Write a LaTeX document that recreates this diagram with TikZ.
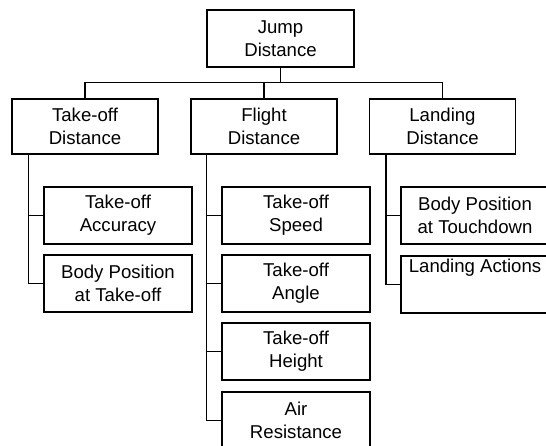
\documentclass[tikz,border=0pt]{standalone}
\usepackage{fontspec}
\setmainfont{Liberation Sans}
\begin{document}
\begin{tikzpicture}[x=1bp,y=-1bp,
  box/.style={draw, line width=1.3bp, rectangle, inner sep=0pt, align=center,
    font=\fontsize{18.6bp}{23bp}\selectfont, minimum width=148bp, minimum height=57bp},
  midbox/.style={box, minimum width=146bp, minimum height=55bp},
  lab/.style={inner sep=0pt, font=\fontsize{18.6bp}{23bp}\selectfont},
  wire/.style={line width=1.3bp}]
\useasboundingbox (0,0) rectangle (546,446);
\clip (0,0) rectangle (546,446);
% root
\node[box, minimum width=147bp] (root) at (280.5,38.5) {Jump\\Distance};
% level 2
\node[midbox] (tod) at (85,126.5) {Take-off\\Distance};
\node[midbox] (fd) at (264,126.5) {Flight\\Distance};
\node[midbox] (ld) at (442.5,126.5) {Landing\\Distance};
% children left
\node[box] (ta) at (118,215.5) {Take-off\\Accuracy};
\node[box] (bpt) at (118,283.5) {Body Position\\at Take-off};
% children middle
\node[box] (ts) at (296,215.5) {Take-off\\Speed};
\node[box] (tan) at (296,283.5) {Take-off\\Angle};
\node[box] (th) at (296,351.5) {Take-off\\Height};
\node[box] (ar) at (296,420.5) {Air\\Resistance};
% children right
\node[box] (bptd) at (475,215.5) {Body Position\\at Touchdown};
\node[box] (la) at (475,284.5) {};
\node[lab, anchor=north] (latext) at ([yshift=-3bp]la.north) {Landing Actions};
% connectors level 1
\draw[wire] (root.south) -- ++(0,15) coordinate (hub);
\draw[wire] (tod.north) |- (hub) -| (ld.north);
\draw[wire] (fd.north) -- (fd.north |- hub);
% connectors left
\draw[wire] ([xshift=17bp]tod.south west) |- (ta.west);
\draw[wire] ([xshift=17bp]tod.south west) |- (bpt.west);
% connectors middle
\draw[wire] ([xshift=16bp]fd.south west) |- (ts.west);
\draw[wire] ([xshift=16bp]fd.south west) |- (tan.west);
\draw[wire] ([xshift=16bp]fd.south west) |- (th.west);
\draw[wire] ([xshift=16bp]fd.south west) |- (ar.west);
% connectors right
\draw[wire] ([xshift=17bp]ld.south west) |- (bptd.west);
\draw[wire] ([xshift=17bp]ld.south west) |- (la.west);
\end{tikzpicture}
\end{document}
